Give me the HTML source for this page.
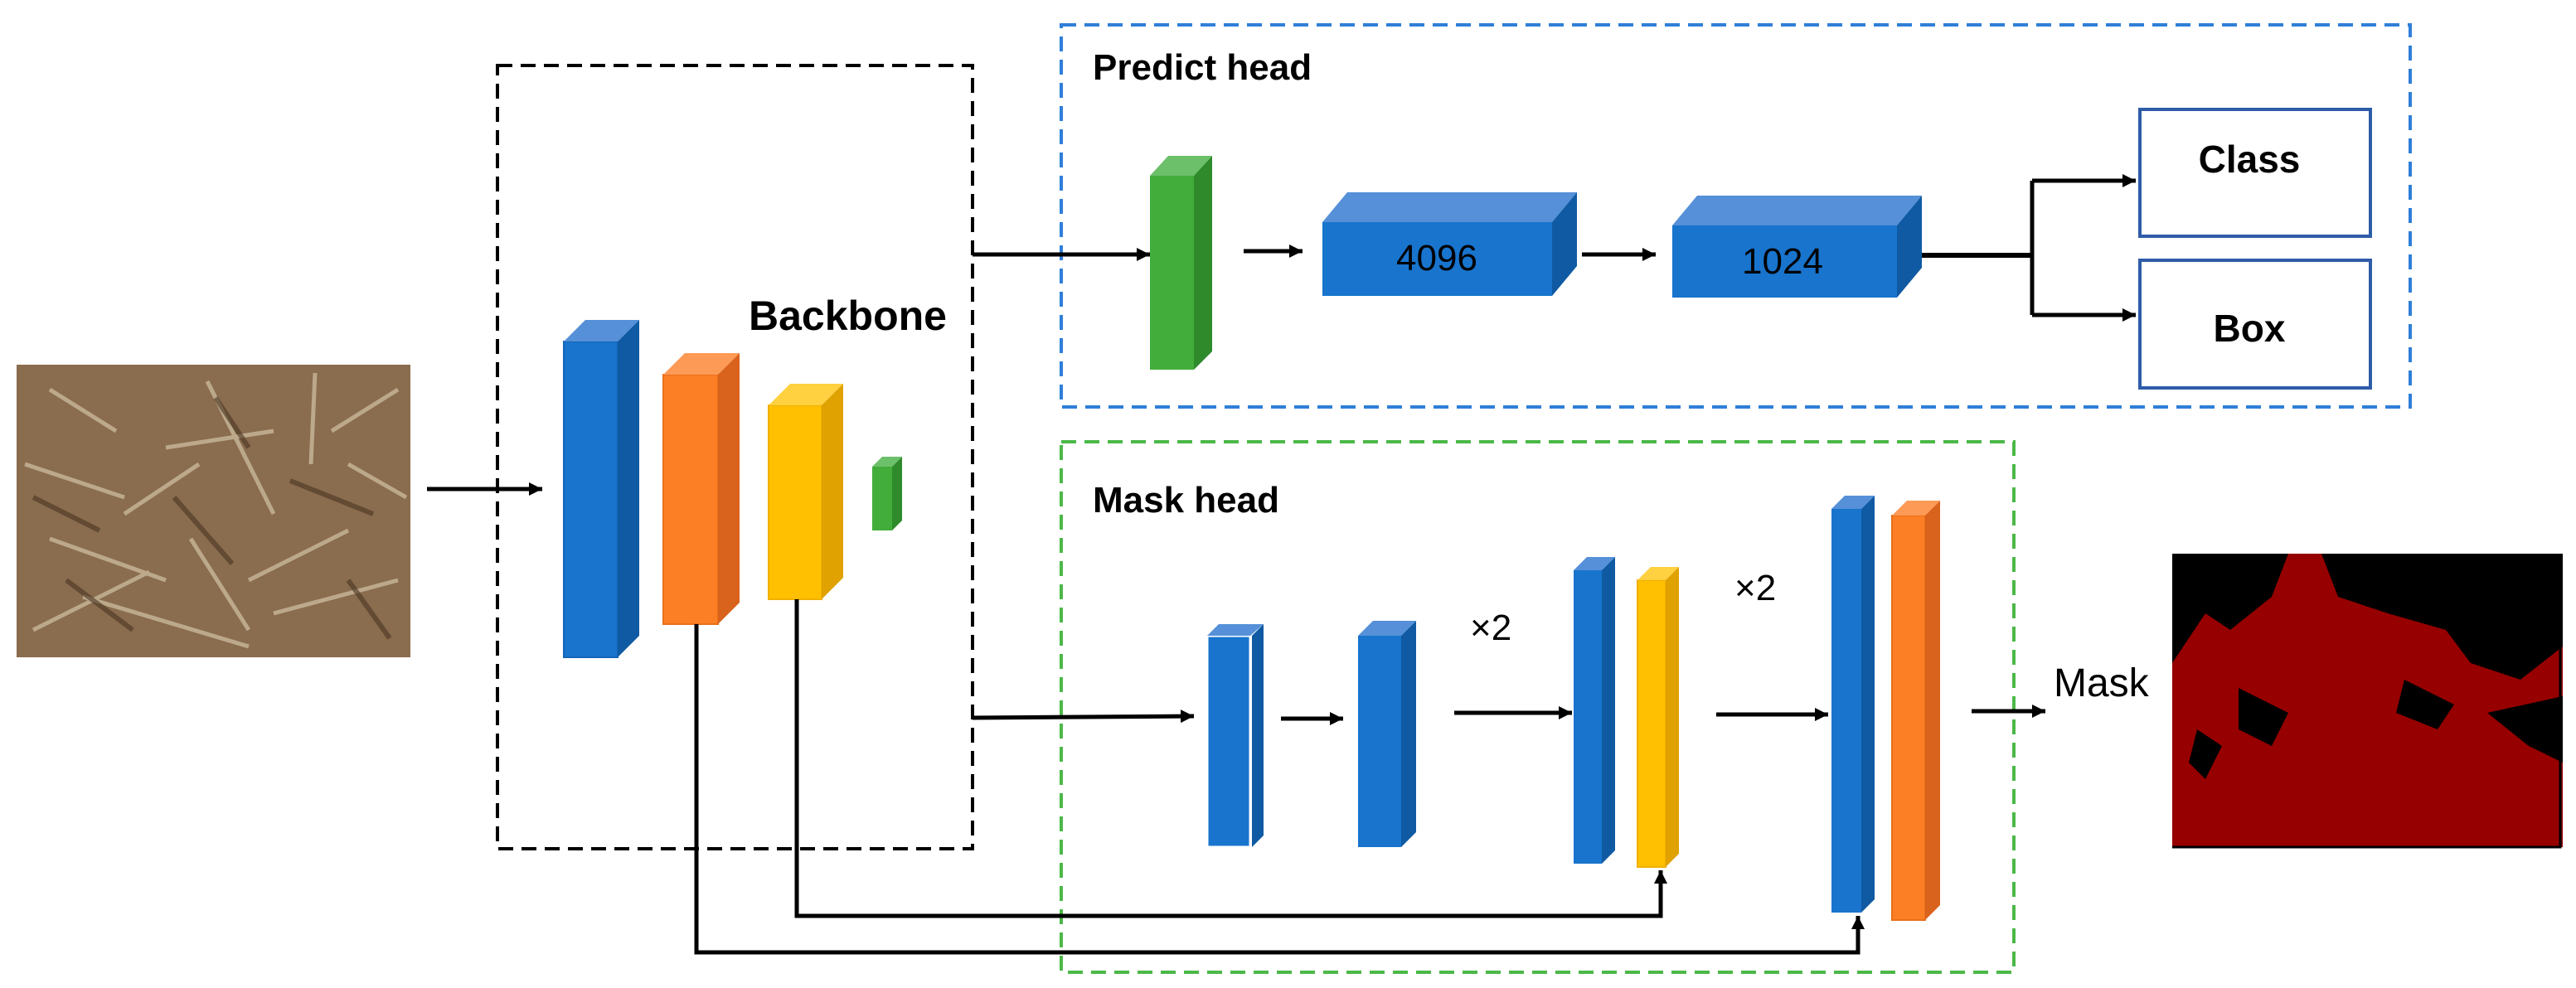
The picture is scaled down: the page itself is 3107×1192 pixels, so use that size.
<!DOCTYPE html>
<html><head><meta charset="utf-8"><style>html,body{margin:0;padding:0;background:#fff}svg{display:block}</style></head>
<body>
<svg width="3107" height="1192" viewBox="0 0 3107 1192" xmlns="http://www.w3.org/2000/svg" font-family="Liberation Sans, sans-serif">
<defs>
<marker id="a2" viewBox="0 0 10 10" refX="10" refY="5" markerWidth="16" markerHeight="16" orient="auto" markerUnits="userSpaceOnUse"><path d="M0,0 L10,5 L0,10 z" fill="#000"/></marker>
</defs>
<!-- photo -->
<rect x="20" y="440" width="475" height="353" fill="#8a6c4e"/>
<g stroke="#c9b89a" stroke-width="5" opacity="0.8">
<path d="M30 560 L150 600 M60 650 L200 700 M100 720 L300 780 M250 460 L330 620 M380 450 L375 560 M400 520 L480 470 M200 540 L330 520 M40 760 L180 690 M300 700 L420 640 M150 620 L240 560 M330 740 L480 700 M420 560 L490 600 M60 470 L140 520 M230 650 L300 760"/>
</g>
<g stroke="#4a3522" stroke-width="6" opacity="0.6">
<path d="M40 600 L120 640 M210 600 L280 680 M350 580 L450 620 M80 700 L160 760 M260 480 L300 540 M420 700 L470 770"/>
</g>
<!-- backbone -->
<rect x="600" y="79" width="573" height="945" fill="none" stroke="#000" stroke-width="4" stroke-dasharray="18,10"/>
<text x="903" y="398" font-size="50" font-weight="bold">Backbone</text>
<line x1="515" y1="590" x2="654" y2="590" stroke="#000" stroke-width="5" marker-end="url(#a2)"/>
<rect x="680" y="412" width="65" height="381" fill="#1874cd" stroke="#1565b8" stroke-width="2"/>
<polygon points="680,412 706,386 771,386 745,412" fill="#5590d8"/>
<polygon points="745,412 771,386 771,767 745,793" fill="#0f5aa3"/>
<rect x="800" y="452" width="66" height="301" fill="#fd7f25" stroke="#e8701c" stroke-width="2"/>
<polygon points="800,452 826,426 892,426 866,452" fill="#fd9a55"/>
<polygon points="866,452 892,426 892,727 866,753" fill="#d9621c"/>
<rect x="927" y="489" width="64" height="234" fill="#fec000" stroke="#f0b000" stroke-width="2"/>
<polygon points="927,489 953,463 1017,463 991,489" fill="#ffd040"/>
<polygon points="991,489 1017,463 1017,697 991,723" fill="#e0a200"/>
<rect x="1052" y="563" width="24" height="77" fill="#42ad3a"/>
<polygon points="1052,563 1064,551 1088,551 1076,563" fill="#6cc06a"/>
<polygon points="1076,563 1088,551 1088,628 1076,640" fill="#2f8a2c"/>
<!-- predict head -->
<rect x="1280" y="30" width="1627" height="461" fill="none" stroke="#2f7fd8" stroke-width="4" stroke-dasharray="18,10"/>
<text x="1318" y="96" font-size="44" font-weight="bold">Predict head</text>
<line x1="1173" y1="307" x2="1387" y2="307" stroke="#000" stroke-width="5" marker-end="url(#a2)"/>
<rect x="1387" y="212" width="53" height="234" fill="#42ad3a"/>
<polygon points="1387,212 1409,188 1462,188 1440,212" fill="#6cc06a"/>
<polygon points="1440,212 1462,188 1462,424 1440,446" fill="#2f8a2c"/>
<line x1="1500" y1="303" x2="1571" y2="303" stroke="#000" stroke-width="5" marker-end="url(#a2)"/>
<rect x="1595" y="268" width="277" height="89" fill="#1874cd"/>
<polygon points="1595,268 1625,232 1902,232 1872,268" fill="#5590d8"/>
<polygon points="1872,268 1902,232 1902,321 1872,357" fill="#0f5aa3"/>
<text x="1733" y="326" font-size="44" text-anchor="middle">4096</text>
<line x1="1908" y1="307" x2="1997" y2="307" stroke="#000" stroke-width="5" marker-end="url(#a2)"/>
<rect x="2017" y="272" width="271" height="87" fill="#1874cd"/>
<polygon points="2017,272 2047,236 2318,236 2288,272" fill="#5590d8"/>
<polygon points="2288,272 2318,236 2318,323 2288,359" fill="#0f5aa3"/>
<text x="2150" y="330" font-size="44" text-anchor="middle">1024</text>
<path d="M2318 308 H2451" stroke="#000" stroke-width="6" fill="none"/>
<path d="M2451 218 V380" stroke="#000" stroke-width="5" fill="none"/>
<line x1="2451" y1="218" x2="2576" y2="218" stroke="#000" stroke-width="5" marker-end="url(#a2)"/>
<line x1="2451" y1="380" x2="2576" y2="380" stroke="#000" stroke-width="5" marker-end="url(#a2)"/>
<rect x="2581" y="132" width="278" height="153" fill="#fff" stroke="#2e5ca8" stroke-width="4"/>
<rect x="2581" y="314" width="278" height="154" fill="#fff" stroke="#2e5ca8" stroke-width="4"/>
<text x="2713" y="208" font-size="46" font-weight="bold" text-anchor="middle">Class</text>
<text x="2713" y="412" font-size="46" font-weight="bold" text-anchor="middle">Box</text>
<!-- mask head -->
<rect x="1280" y="533" width="1149" height="640" fill="none" stroke="#4cb848" stroke-width="4" stroke-dasharray="18,10"/>
<text x="1318" y="618" font-size="44" font-weight="bold">Mask head</text>
<line x1="1173" y1="866" x2="1440" y2="864" stroke="#000" stroke-width="5" marker-end="url(#a2)"/>
<rect x="1456" y="767" width="52" height="255" fill="#1874cd" stroke="#fff" stroke-width="3"/>
<polygon points="1456,767 1470,753 1524,753 1508,767" fill="#5590d8"/>
<polygon points="1510,767 1524,753 1524,1008 1510,1022" fill="#0f5aa3"/>
<line x1="1545" y1="867" x2="1620" y2="867" stroke="#000" stroke-width="5" marker-end="url(#a2)"/>
<rect x="1638" y="767" width="52" height="255" fill="#1874cd"/>
<polygon points="1638,767 1656,749 1708,749 1690,767" fill="#5590d8"/>
<polygon points="1690,767 1708,749 1708,1004 1690,1022" fill="#0f5aa3"/>
<text x="1773" y="772" font-size="44">×2</text>
<line x1="1754" y1="860" x2="1896" y2="860" stroke="#000" stroke-width="5" marker-end="url(#a2)"/>
<rect x="1898" y="688" width="34" height="354" fill="#1874cd"/>
<polygon points="1898,688 1914,672 1948,672 1932,688" fill="#5590d8"/>
<polygon points="1932,688 1948,672 1948,1026 1932,1042" fill="#0f5aa3"/>
<rect x="1975" y="700" width="34" height="346" fill="#fec000" stroke="#f0b000" stroke-width="2"/>
<polygon points="1975,700 1991,684 2025,684 2009,700" fill="#ffd040"/>
<polygon points="2009,700 2025,684 2025,1030 2009,1046" fill="#e0a200"/>
<text x="2092" y="724" font-size="44">×2</text>
<line x1="2070" y1="862" x2="2205" y2="862" stroke="#000" stroke-width="5" marker-end="url(#a2)"/>
<rect x="2209" y="614" width="36" height="487" fill="#1874cd"/>
<polygon points="2209,614 2225,598 2261,598 2245,614" fill="#5590d8"/>
<polygon points="2245,614 2261,598 2261,1085 2245,1101" fill="#0f5aa3"/>
<rect x="2282" y="622" width="40" height="488" fill="#fd7f25" stroke="#e8701c" stroke-width="2"/>
<polygon points="2282,622 2300,604 2340,604 2322,622" fill="#fd9a55"/>
<polygon points="2322,622 2340,604 2340,1092 2322,1110" fill="#d9621c"/>
<line x1="2378" y1="858" x2="2467" y2="858" stroke="#000" stroke-width="5" marker-end="url(#a2)"/>
<text x="2477" y="840" font-size="48">Mask</text>
<!-- mask image -->
<rect x="2620" y="668" width="471" height="354" fill="#960000"/>
<g fill="#000">
<polygon points="2620,668 2760,668 2740,720 2690,760 2660,740 2620,800"/>
<polygon points="2800,668 3091,668 3091,780 3040,820 2980,800 2950,760 2880,740 2820,720"/>
<polygon points="2700,830 2760,860 2740,900 2700,880"/>
<polygon points="2900,820 2960,850 2940,880 2890,860"/>
<polygon points="3000,860 3091,840 3091,920 3050,900"/>
<polygon points="2650,880 2680,900 2660,940 2640,920"/>
</g>
<path d="M3088 668 V1022 H2620" stroke="#000" stroke-width="3" fill="none"/>
<!-- skip connections -->
<path d="M840 753 V1149 H2241 V1105" stroke="#000" stroke-width="5" fill="none" marker-end="url(#a2)"/>
<path d="M961 723 V1105 H2003 V1050" stroke="#000" stroke-width="5" fill="none" marker-end="url(#a2)"/>
</svg>
</body></html>
